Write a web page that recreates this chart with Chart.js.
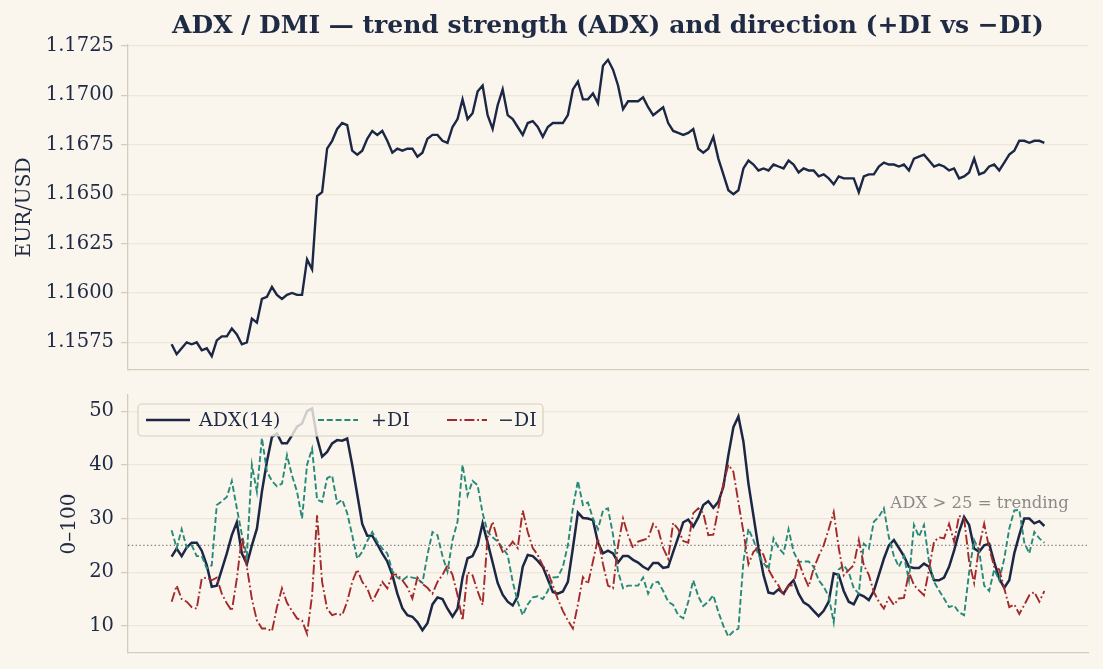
<!DOCTYPE html>
<html><head><meta charset="utf-8">
<script src="https://cdn.jsdelivr.net/npm/chart.js@4.4.1/dist/chart.umd.min.js"></script>
<style>
html,body{margin:0;padding:0;background:#faf6ee;}
#wrap{position:relative;width:1103px;height:669px;background:#faf6ee;overflow:hidden}
#title{position:absolute;left:128px;width:960px;top:10px;line-height:30px;text-align:center;font:bold 25px "DejaVu Serif";color:#1f2a44;white-space:nowrap}
#c1{position:absolute;left:0;top:0}
#c2{position:absolute;left:0;top:380px}
</style></head><body>
<div id="wrap">
<canvas id="c1" width="1103" height="380"></canvas>
<canvas id="c2" width="1103" height="289"></canvas>
<div id="title">ADX / DMI — trend strength (ADX) and direction (+DI vs −DI)</div>
</div>
<script>
// ---------------- data ----------------
const price = [
1.1574,1.1569,1.1572,1.1575,1.1574,1.1575,1.1571,1.1572,1.1568,1.1576,
1.1578,1.1578,1.1582,1.1579,1.1574,1.1575,1.1587,1.1585,1.1597,1.1598,
1.1603,1.1599,1.1597,1.1599,1.1600,1.1599,1.1599,1.1617,1.1612,1.1649,
1.1651,1.1673,1.1677,1.1683,1.1686,1.1685,1.1672,1.1670,1.1672,1.1678,
1.1682,1.1680,1.1682,1.1677,
1.1671,1.1673,1.1672,1.1673,1.1673,1.1669,1.1671,1.1678,1.1680,1.1680,
1.1677,1.1676,1.1684,1.1688,1.1698,1.1688,1.1691,1.1702,1.1705,1.1690,
1.1683,1.1695,1.1703,1.1690,1.1688,1.1684,1.1680,1.1686,1.1687,1.1684,
1.1679,1.1684,1.1686,1.1686,1.1686,1.1690,1.1703,1.1707,1.1698,1.1698,
1.1701,1.1696,1.1715,1.1718,
1.1713,1.1705,1.1693,1.1697,1.1697,1.1697,1.1699,1.1694,1.1690,1.1692,
1.1694,1.1686,1.1682,1.1681,1.1680,1.1681,1.1683,1.1673,1.1671,1.1673,
1.1679,1.1668,1.1660,1.1652,1.1650,1.1652,1.1663,1.1667,1.1665,1.1662,
1.1663,1.1662,1.1665,1.1664,1.1663,1.1667,1.1665,1.1661,1.1663,1.1662,
1.1662,1.1659,1.1660,1.1658,
1.1655,1.1659,1.1658,1.1658,1.1658,1.1651,1.1659,1.1660,1.1660,1.1664,
1.1666,1.1665,1.1665,1.1664,1.1665,1.1662,1.1668,1.1669,1.1670,1.1667,
1.1664,1.1665,1.1664,1.1662,1.1663,1.1658,1.1659,1.1661,1.1668,1.1660,
1.1661,1.1664,1.1665,1.1662,1.1666,1.1670,1.1672,1.1677,1.1677,1.1676,
1.1677,1.1677,1.1676
];
const adx = [
22.9,24.4,23.0,24.6,25.5,25.5,24.0,21.3,17.3,17.5,
20.5,23.5,26.9,29.3,23.5,21.5,25.0,28.1,35.0,40.6,
45.2,45.8,44.0,44.0,45.5,47.1,47.7,50.0,50.5,45.0,
41.5,42.4,44.0,44.6,44.5,44.9,40.0,34.5,29.0,26.8,
26.8,25.2,23.5,22.0,
19.5,16.0,13.3,12.0,11.7,10.7,9.2,10.5,14.0,15.3,
15.0,13.2,11.7,13.2,19.0,22.6,23.0,25.0,29.1,25.5,
21.8,18.0,15.8,14.5,13.8,15.5,21.0,23.2,23.0,22.1,
21.0,18.7,16.3,16.0,16.4,18.2,24.5,31.1,30.1,30.0,
29.7,25.5,23.5,24.0,
23.5,21.8,23.0,23.0,22.3,21.8,21.0,20.5,21.7,21.7,
20.8,21.0,23.8,26.5,29.3,29.8,28.5,30.2,32.5,33.2,
32.0,33.1,35.9,41.8,47.0,49.0,44.3,36.5,30.5,24.5,
19.5,16.2,16.0,16.8,16.0,17.5,18.5,16.0,14.4,13.8,
12.8,11.8,12.8,14.5,
19.8,19.5,16.5,14.5,14.0,15.9,15.5,14.8,16.5,19.5,
22.5,25.0,26.0,24.5,23.0,21.0,20.8,20.8,21.6,21.0,
18.5,18.5,19.0,21.0,24.0,27.5,30.3,28.8,24.4,23.8,
25.0,25.3,21.9,18.8,17.1,18.5,23.5,26.9,30.0,30.0,
29.1,29.5,28.6
];
const plusDI = [
27.8,24.5,28.0,24.6,25.0,23.0,23.0,20.7,21.3,32.5,
33.2,34.0,37.0,31.9,27.0,23.0,40.0,35.0,45.0,38.7,
37.0,36.0,36.5,41.8,38.0,35.0,30.0,40.0,43.0,33.5,
33.1,37.5,38.0,32.8,33.5,31.0,26.9,22.5,23.8,25.8,
27.5,25.7,24.4,23.5,
20.2,19.0,18.5,19.2,19.0,18.8,18.0,23.2,27.5,26.9,
23.0,20.1,26.0,29.4,40.0,34.3,37.0,36.2,31.0,27.5,
26.5,25.7,24.5,23.2,18.2,14.5,12.0,14.0,15.3,15.5,
15.0,16.5,19.0,19.1,21.0,25.0,32.0,37.0,32.5,33.0,
30.0,28.0,31.5,31.9,
27.0,20.1,17.0,17.5,17.5,17.5,19.0,16.0,18.0,18.2,
16.5,14.5,13.9,12.0,11.4,14.5,18.5,15.5,13.7,14.5,
15.7,12.6,10.0,8.0,9.0,9.5,22.0,28.1,26.0,23.2,
21.7,20.5,26.3,24.5,23.5,28.0,23.8,21.9,22.0,22.0,
21.0,18.5,17.3,15.5,
10.7,20.5,21.3,20.0,17.0,16.0,25.3,24.4,29.4,30.3,
31.9,26.5,23.0,21.0,23.0,18.5,28.8,26.6,28.8,22.0,
18.2,16.6,15.1,13.5,13.8,12.5,12.0,20.0,26.0,24.0,
17.5,16.5,20.5,18.5,22.5,28.1,31.5,31.6,25.5,23.5,
27.5,26.3,25.5
];
const minusDI = [
14.5,17.5,15.0,14.5,13.5,13.2,18.8,19.0,18.5,19.0,
16.0,14.2,12.8,18.8,26.5,21.0,15.0,11.0,9.5,9.5,
9.0,13.5,17.0,14.3,12.8,11.4,11.0,8.5,15.7,30.6,
18.2,13.2,12.0,12.3,12.0,14.5,18.2,20.5,18.2,17.0,
14.5,16.3,18.2,17.0,
19.5,19.6,18.5,17.2,15.1,19.0,17.8,17.1,16.0,18.2,
19.5,21.3,19.5,15.7,11.0,20.0,19.4,16.5,13.9,26.5,
29.4,26.0,23.8,24.4,25.7,24.5,31.5,27.5,24.5,23.2,
21.2,20.1,17.5,15.0,12.8,11.0,9.5,14.0,19.1,17.8,
22.0,26.3,21.5,17.5,
17.0,25.0,30.0,26.9,24.5,25.7,26.0,26.3,29.0,28.0,
24.5,22.5,29.2,28.0,25.8,25.5,31.0,31.9,31.0,26.9,
27.0,31.9,36.5,40.0,38.7,33.0,27.5,21.5,23.8,24.6,
23.2,20.5,18.8,17.5,15.7,17.5,17.6,22.0,19.4,17.3,
20.7,23.0,25.0,28.0,
31.2,24.5,19.4,20.4,21.3,26.0,21.3,19.5,16.3,14.5,
13.2,15.3,13.9,15.1,15.2,20.0,17.6,16.6,15.7,20.5,
25.7,26.5,26.3,29.0,25.7,30.5,30.0,22.0,18.0,24.8,
29.0,24.5,21.0,20.5,17.0,13.5,14.0,12.2,13.9,15.7,
16.3,14.5,16.5
];
const priceTicks = [1.1575, 1.1600, 1.1625, 1.1650, 1.1675, 1.1700, 1.1725];
const oscTicks = [10, 20, 30, 40, 50];
const seriesNames = ['ADX(14)', '+DI', '\u2212DI'];
const TREND_LEVEL = 25;
const TREND_TEXT = 'ADX > 25 = trending';

// ---------------- style ----------------
const FONT = '"DejaVu Serif", serif';
const INK = '#1f2a44';
const GRID = '#eee7d8';
const SPINE = '#d5ccbb';
const NAVY = '#1c2745';
const TEAL = '#278a79';
const RED = '#a3292b';

const N = price.length;
const xMin = -0.05 * (N - 1), xMax = (N - 1) * 1.05;
const xy = arr => arr.map((v, i) => ({x: i, y: v}));

function xAxis() {
  return {
    type: 'linear', min: xMin, max: xMax,
    afterFit: s => { s.height = 0; s.paddingLeft = 0; s.paddingRight = 0; },
    ticks: {display: false},
    grid: {display: false, drawTicks: false},
    border: {display: true, color: SPINE, width: 1.3}
  };
}
function yAxis(min, max, tickVals, fmt, titleText, titlePad) {
  return {
    position: 'left', min, max,
    afterFit: s => { s.width = 128; s.paddingTop = 0; s.paddingBottom = 0; },
    afterBuildTicks: s => { s.ticks = tickVals.map(v => ({value: v})); },
    ticks: {color: INK, font: {family: FONT, size: 19.5}, padding: 7, callback: fmt},
    grid: {color: GRID, lineWidth: 1.2, tickLength: 7, tickColor: SPINE, tickWidth: 1.3, drawTicks: true},
    border: {display: true, color: SPINE, width: 1.3},
    title: {display: true, text: titleText, color: INK, font: {family: FONT, size: 20}, padding: {top: titlePad, bottom: 0}}
  };
}

Chart.defaults.font.family = FONT;

new Chart(document.getElementById('c1'), {
  type: 'line',
  data: {datasets: [{data: xy(price), borderColor: NAVY, borderWidth: 2.4, pointRadius: 0, tension: 0, fill: false}]},
  options: {
    responsive: false, animation: false, devicePixelRatio: 1,
    layout: {padding: {left: 0, right: 15, top: 45, bottom: 10}},
    plugins: {legend: {display: false}, tooltip: {enabled: false}},
    scales: {
      x: xAxis(),
      y: yAxis(1.1561, 1.17255, priceTicks, v => Number(v).toFixed(4), 'EUR/USD', 13)
    }
  }
});

const dmiPlugin = {
  id: 'dmiExtras',
  beforeDatasetsDraw(chart) {
    const {ctx, chartArea: a, scales: {y}} = chart;
    const py = y.getPixelForValue(TREND_LEVEL);
    ctx.save();
    ctx.strokeStyle = '#858585'; ctx.lineWidth = 1.1; ctx.setLineDash([1.4, 2.4]);
    ctx.beginPath(); ctx.moveTo(a.left, py); ctx.lineTo(a.right, py); ctx.stroke();
    ctx.restore();
  },
  afterDatasetsDraw(chart) {
    const {ctx, chartArea: a, scales: {y}} = chart;
    ctx.save();
    // annotation
    ctx.fillStyle = '#8c8a86';
    ctx.font = '16.5px ' + FONT;
    ctx.textAlign = 'right'; ctx.textBaseline = 'alphabetic';
    ctx.fillText(TREND_TEXT, a.left + 0.98 * (a.right - a.left), y.getPixelForValue(32));
    // legend
    const bx = a.left + 10, by = a.top + 9, bw = 405, bh = 32, r = 4;
    ctx.beginPath();
    ctx.moveTo(bx + r, by); ctx.lineTo(bx + bw - r, by); ctx.arcTo(bx + bw, by, bx + bw, by + r, r);
    ctx.lineTo(bx + bw, by + bh - r); ctx.arcTo(bx + bw, by + bh, bx + bw - r, by + bh, r);
    ctx.lineTo(bx + r, by + bh); ctx.arcTo(bx, by + bh, bx, by + bh - r, r);
    ctx.lineTo(bx, by + r); ctx.arcTo(bx, by, bx + r, by, r); ctx.closePath();
    ctx.fillStyle = 'rgba(250,246,238,0.8)'; ctx.fill();
    ctx.strokeStyle = '#d8d0c0'; ctx.lineWidth = 1.2; ctx.stroke();
    const items = [{s: 8, len: 44, t: 61}, {s: 180, len: 40, t: 233}, {s: 309, len: 40, t: 360}];
    const cy = by + bh / 2;
    chart.data.datasets.forEach((ds, i) => {
      const it = items[i];
      ctx.strokeStyle = ds.borderColor; ctx.lineWidth = ds.borderWidth;
      ctx.setLineDash(ds.borderDash || []);
      ctx.beginPath(); ctx.moveTo(bx + it.s, cy); ctx.lineTo(bx + it.s + it.len, cy); ctx.stroke();
      ctx.setLineDash([]);
      ctx.fillStyle = INK; ctx.font = '19px ' + FONT;
      ctx.textAlign = 'left'; ctx.textBaseline = 'middle';
      ctx.fillText(ds.label, bx + it.t, cy + 1);
    });
    ctx.restore();
  }
};

new Chart(document.getElementById('c2'), {
  type: 'line',
  data: {datasets: [
    {label: seriesNames[0], data: xy(adx), borderColor: NAVY, borderWidth: 2.5, pointRadius: 0, tension: 0, fill: false, order: 3},
    {label: seriesNames[1], data: xy(plusDI), borderColor: TEAL, borderWidth: 1.9, borderDash: [6, 2.8], pointRadius: 0, tension: 0, fill: false, order: 2},
    {label: seriesNames[2], data: xy(minusDI), borderColor: RED, borderWidth: 1.9, borderDash: [10, 2.8, 1.8, 2.8], pointRadius: 0, tension: 0, fill: false, order: 1}
  ]},
  options: {
    responsive: false, animation: false, devicePixelRatio: 1,
    layout: {padding: {left: 0, right: 15, top: 15, bottom: 16}},
    plugins: {legend: {display: false}, tooltip: {enabled: false}},
    scales: {
      x: xAxis(),
      y: yAxis(4.95, 53.0, oscTicks, v => String(v), '0\u2013100', 58)
    }
  },
  plugins: [dmiPlugin]
});
</script>
</body></html>
